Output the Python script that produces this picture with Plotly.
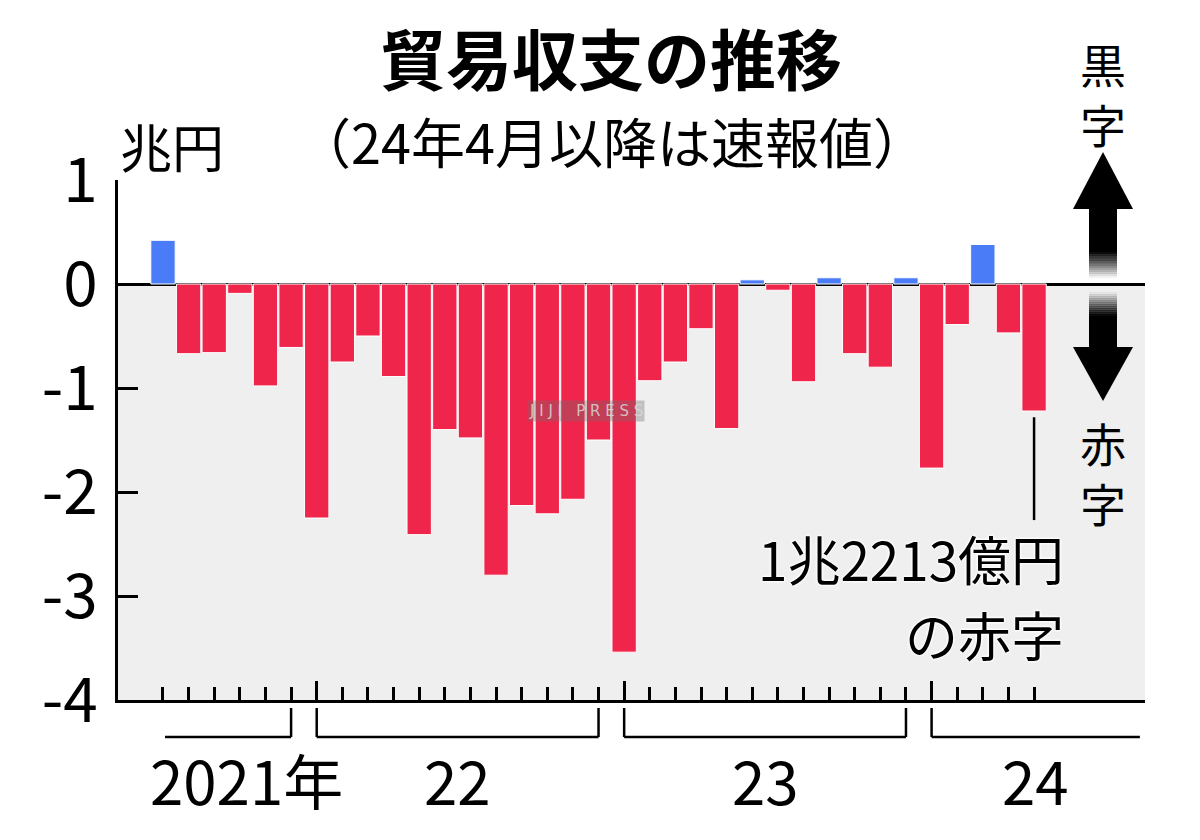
import plotly.graph_objects as go

# ---- data ----
months = ["2021-07", "2021-08", "2021-09", "2021-10", "2021-11", "2021-12",
          "2022-01", "2022-02", "2022-03", "2022-04", "2022-05", "2022-06",
          "2022-07", "2022-08", "2022-09", "2022-10", "2022-11", "2022-12",
          "2023-01", "2023-02", "2023-03", "2023-04", "2023-05", "2023-06",
          "2023-07", "2023-08", "2023-09", "2023-10", "2023-11", "2023-12",
          "2024-01", "2024-02", "2024-03", "2024-04", "2024-05"]
balance = [0.42, -0.67, -0.66, -0.09, -0.98, -0.61,
           -2.25, -0.75, -0.50, -0.89, -2.41, -1.40,
           -1.48, -2.80, -2.13, -2.21, -2.07, -1.50,
           -3.54, -0.93, -0.75, -0.43, -1.39, 0.04,
           -0.06, -0.94, 0.06, -0.67, -0.80, 0.06,
           -1.77, -0.39, 0.38, -0.47, -1.2213]
year_labels = ["2021年", "22", "23", "24"]
y_ticks = [1, 0, -1, -2, -3, -4]

# ---- layout geometry (target pixels in the screenshot) ----
W, H = 1200, 840
OFF = 8  # the page body adds an 8px margin
L, R, T, B = 118, 1145, 180, 700
FONT = "Noto Sans CJK JP"
RED = "#F0254B"
BLUE = "#4A7CF7"

def px(xp):
    return (xp - L) / (R - L)

def py(yp):
    return (B - yp) / (B - T)

xs = list(range(len(months)))
colors = [BLUE if v >= 0 else RED for v in balance]

fig = go.Figure()
fig.add_trace(go.Bar(x=xs, y=balance, marker=dict(color=colors, line=dict(color="white", width=1)),
                     width=0.95, hoverinfo="x+y"))

shapes = []
shapes.append(dict(type="rect", xref="paper", yref="y", x0=0, x1=1, y0=-4, y1=0,
                   fillcolor="#EFEFEF", line=dict(width=0), layer="below"))

# year brackets below the axis
years = [m[:4] for m in months]
groups = []
for i, yv in enumerate(years):
    if not groups or groups[-1][0] != yv:
        groups.append([yv, i, i])
    else:
        groups[-1][2] = i
yb_top, yb_bot = py(708), py(737)
lw = 2.5
annotations = []
for gi, (yv, i0, i1) in enumerate(groups):
    first = gi == 0
    last = gi == len(groups) - 1
    xa = i0 + 0.08 if first else i0
    xb = 38.13 if last else i1
    shapes.append(dict(type="line", xref="x", yref="paper", x0=xa, x1=xb, y0=yb_bot, y1=yb_bot,
                       line=dict(color="black", width=lw)))
    if not first:
        shapes.append(dict(type="line", xref="x", yref="paper", x0=i0, x1=i0, y0=yb_top, y1=yb_bot,
                           line=dict(color="black", width=lw)))
    if not last:
        shapes.append(dict(type="line", xref="x", yref="paper", x0=i1, x1=i1, y0=yb_top, y1=yb_bot,
                           line=dict(color="black", width=lw)))
    if first:
        annotations.append(dict(x=i0, xref="x", y=py(778), yref="paper", text=year_labels[gi],
                                xanchor="left", yanchor="middle", xshift=-15, showarrow=False,
                                font=dict(family=FONT, size=60, color="black")))
    else:
        annotations.append(dict(x=(xa + xb) / 2, xref="x", y=py(778), yref="paper", text=year_labels[gi],
                                xanchor="center", yanchor="middle", showarrow=False,
                                font=dict(family=FONT, size=60, color="black")))

# leader line for last bar
shapes.append(dict(type="line", xref="x", yref="y", x0=xs[-1], x1=xs[-1],
                   y0=balance[-1] - 0.06, y1=-2.27, line=dict(color="black", width=2.5)))

# arrows on the right
cx = 1103
def rect_px(x0, x1, y0, y1, color, opacity=1.0):
    return dict(type="rect", xref="paper", yref="paper", x0=px(x0), x1=px(x1), y0=py(y0), y1=py(y1),
                fillcolor=color, opacity=opacity, line=dict(width=0), layer="above")

def tri_px(pts):
    path = "M " + " L ".join(f"{px(a)},{py(b)}" for a, b in pts) + " Z"
    return dict(type="path", xref="paper", yref="paper", path=path, fillcolor="black",
                line=dict(width=0), layer="above")

sw = 14
shapes.append(tri_px([(cx, 152), (cx - 30, 209), (cx + 30, 209)]))
shapes.append(rect_px(cx - sw, cx + sw, 208, 252, "black"))
n = 12
for k in range(n):
    y0 = 252 + k * (26 / n)
    shapes.append(rect_px(cx - sw, cx + sw, y0, y0 + 26 / n + 0.3, "black", 1 - (k + 0.5) / n))
shapes.append(tri_px([(cx, 401), (cx - 30, 347), (cx + 30, 347)]))
shapes.append(rect_px(cx - sw, cx + sw, 316, 348, "black"))
for k in range(n):
    y0 = 292 + k * (24 / n)
    shapes.append(rect_px(cx - sw, cx + sw, y0, y0 + 24 / n + 0.3, "black", (k + 0.5) / n))

def txt(x, y, s, size, xanchor="center", bold=False, shadow=None, color="black", align="center"):
    f = dict(family=FONT, size=size, color=color, weight=("bold" if bold else "normal"))
    if shadow:
        f["shadow"] = shadow
    return dict(x=px(x), y=py(y), xref="paper", yref="paper", text=s, showarrow=False,
                xanchor=xanchor, yanchor="middle", font=f, align=align)

halo = "0 0 3px white, 0 0 3px white, 0 0 3px white, 0 0 3px white"
annotations += [
    txt(611, 56, "貿易収支の推移", 66, bold=True),
    txt(612, 140, "（24年4月以降は速報値）", 54),
    txt(172, 145, "兆円", 52),
    txt(cx, 63, "黒", 46),
    txt(cx, 123, "字", 46),
    txt(cx, 442, "赤", 46),
    txt(cx, 502, "字", 46),
    txt(1066, 558, "1兆2213億円", 53, xanchor="right", align="right", shadow=halo),
    txt(1066, 634, "の赤字", 53, xanchor="right", align="right", shadow=halo),
]
annotations.append(dict(x=px(586), y=py(411), xref="paper", yref="paper", text="J I J I   P R E S S",
                        showarrow=False, font=dict(family="DejaVu Sans", size=15, color="rgba(215,215,215,0.85)"),
                        bgcolor="rgba(110,110,110,0.35)", borderpad=1))

jan_idx = [i for i, m in enumerate(months) if m.endswith("-01")]

fig.update_layout(
    width=W, height=H,
    margin=dict(l=L - OFF, r=W - (R - OFF), t=T - OFF, b=H - (B - OFF), pad=0, autoexpand=False),
    plot_bgcolor="white", paper_bgcolor="white",
    showlegend=False, bargap=0.05,
    shapes=shapes, annotations=annotations,
    xaxis=dict(range=[-1.756, 38.33], showgrid=False, zeroline=False, automargin=False,
               showline=True, linecolor="black", linewidth=3,
               tickmode="array", tickvals=jan_idx, ticks="inside", ticklen=19, tickwidth=2.5,
               tickcolor="black", showticklabels=False,
               minor=dict(tickmode="array", tickvals=xs, ticks="inside", ticklen=13,
                          tickwidth=2.5, tickcolor="black")),
    yaxis=dict(range=[-4, 1], showgrid=False, zeroline=True, zerolinecolor="black", zerolinewidth=3,
               showline=True, linecolor="black", linewidth=3, automargin=False,
               tickmode="array", tickvals=y_ticks, ticktext=[str(v) for v in y_ticks],
               ticks="inside", ticklen=20, tickwidth=3, tickcolor="black",
               ticklabelstandoff=5,
               tickfont=dict(family=FONT, size=62, color="black")),
)

fig.write_html("out.html")
